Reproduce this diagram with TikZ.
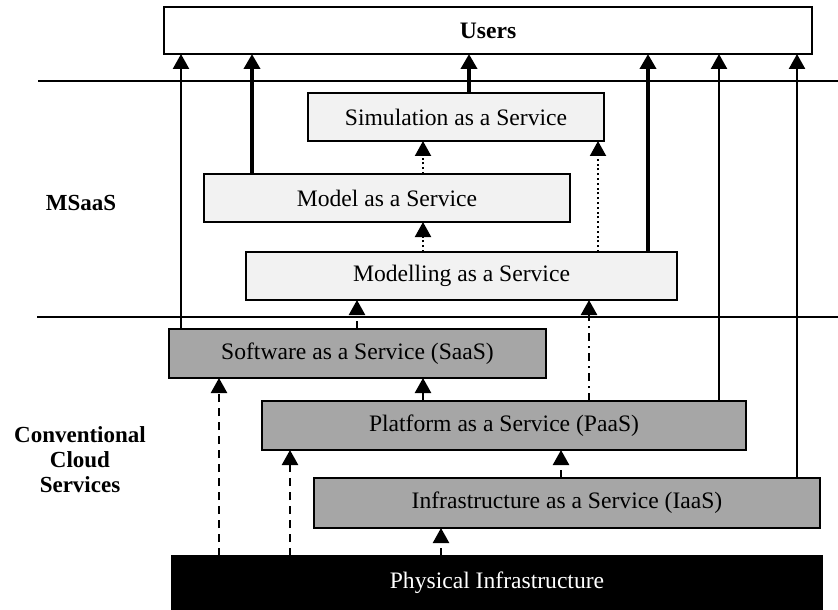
\documentclass[tikz,border=0pt]{standalone}
\usepackage{fontspec}
\setmainfont{Liberation Serif}
\usetikzlibrary{arrows.meta}
\definecolor{lightfill}{HTML}{F2F2F2}
\definecolor{greyfill}{HTML}{A6A6A6}
\begin{document}
\begin{tikzpicture}[x=0.5pt,y=-0.5pt,
  box/.style={draw=black, line width=1pt, inner sep=0pt, outer sep=0pt, anchor=north west,
              font=\fontsize{11.8}{14}\selectfont},
  light/.style={box, fill=lightfill},
  grey/.style={box, fill=greyfill},
  side/.style={font=\fontsize{11.5}{13.5}\selectfont\bfseries, align=center},
  sep/.style={line width=0.9pt},
  tip/.style={-{Triangle[width=8pt,length=7.5pt]}},
  thinarr/.style={tip, line width=1.2pt},
  thickarr/.style={tip, line width=2.4pt},
  dotarr/.style={tip, line width=1pt, dash pattern=on 1pt off 1.4pt},
  dasharr/.style={tip, line width=1.2pt, dash pattern=on 4pt off 3pt},
  dasharrdot/.style={tip, line width=1.2pt, dash pattern=on 4pt off 2.5pt on 1pt off 2.5pt}
]
\useasboundingbox (0,0) rectangle (838,609);

% separators
\coordinate (l1a) at (38,81);  \coordinate (l1b) at (838,81);
\coordinate (l2a) at (37,317); \coordinate (l2b) at (838,317);
\draw[sep] (l1a) -- (l1b);
\draw[sep] (l2a) -- (l2b);

% boxes
\node[box, fill=white, minimum width=324pt, minimum height=23.5pt, font=\fontsize{11.8}{14}\selectfont\bfseries] (users) at (164,7) {Users};
\node[light, minimum width=148pt, minimum height=24pt] (sim) at (308,93) {Simulation as a Service};
\node[light, minimum width=183pt, minimum height=24pt] (model) at (204,174) {Model as a Service};
\node[light, minimum width=215.5pt, minimum height=24pt] (modelling) at (246,252) {Modelling as a Service};
\node[grey, minimum width=188.5pt, minimum height=24.5pt] (saas) at (169,329) {Software as a Service (SaaS)};
\node[grey, minimum width=242pt, minimum height=24.5pt] (paas) at (262,401) {Platform as a Service (PaaS)};
\node[grey, minimum width=253pt, minimum height=25pt] (iaas) at (314,478) {Infrastructure as a Service (IaaS)};
\node[box, fill=black, text=white, minimum width=325pt, minimum height=26.5pt] (phys) at (172,556) {Physical Infrastructure};

% side labels
\node[side] (msaas) at (81,203) {MSaaS};
\node[side] (conv) at (80,460) {Conventional\\[-1pt]Cloud\\[-1pt]Services};

% arrows to users
\draw[thinarr]  (saas.north -| 181,0) -- (users.south -| 181,0);
\draw[thickarr] (model.north -| 252,0) -- (users.south -| 252,0);
\draw[thickarr] (sim.north -| 469,0) -- (users.south -| 469,0);
\draw[thickarr] (modelling.north -| 648,0) -- (users.south -| 648,0);
\draw[thinarr]  (paas.north -| 719,0) -- (users.south -| 719,0);
\draw[thinarr]  (iaas.north -| 797,0) -- (users.south -| 797,0);

% MSaaS internal
\draw[dotarr] (model.north -| 423,0) -- (sim.south -| 423,0);
\draw[dotarr] (modelling.north -| 423,0) -- (model.south -| 423,0);
\draw[dotarr] (modelling.north -| 598,0) -- (sim.south -| 598,0);

% cloud
\draw[dasharr] (saas.north -| 357,0) -- (modelling.south -| 357,0);
\draw[dasharrdot] (paas.north -| 589,0) -- (modelling.south -| 589,0);
\draw[dasharr] (paas.north -| 423,0) -- (saas.south -| 423,0);
\draw[dasharr] (iaas.north -| 561,0) -- (paas.south -| 561,0);
\draw[dasharr] (phys.north -| 219,0) -- (saas.south -| 219,0);
\draw[dasharr] (phys.north -| 290,0) -- (paas.south -| 290,0);
\draw[dasharr] (phys.north -| 441,0) -- (iaas.south -| 441,0);
\end{tikzpicture}
\end{document}
